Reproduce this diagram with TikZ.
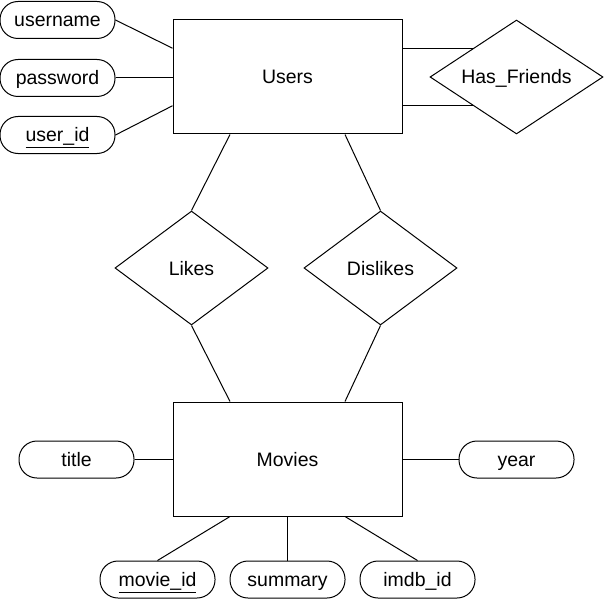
\documentclass[tikz,border=0pt]{standalone}
\usepackage{fontspec}
\setmainfont{Liberation Sans}
\usetikzlibrary{shapes.geometric,calc}

\begin{document}
\begin{tikzpicture}[x=0.75pt,y=-0.75pt,line width=0.75pt,
   font=\fontsize{14.6pt}{17pt}\selectfont,
   every node/.style={text height=10.5pt,text depth=0pt},
   entity/.style={draw,rectangle,inner sep=0pt,minimum width=171.75pt,minimum height=85.5pt},
   attr/.style={draw,rectangle,rounded corners=13.5pt,inner sep=0pt,minimum width=86.25pt,
      minimum height=27.75pt},
   rel/.style={draw,diamond,inner sep=0pt,minimum height=85.5pt}]
   \useasboundingbox (0,0) rectangle (604,613);
   % entities
   \node[entity] (users)  at (287.5,77)  {Users};
   \node[entity] (movies) at (287.5,459) {Movies};
   % relations
   \node[rel,aspect=1.5,minimum width=129.75pt] (friends) at (516.5,77) {Has\_Friends};
   \node[rel,aspect=1.34,minimum width=114.75pt] (likes) at (191.5,268) {Likes};
   \node[rel,aspect=1.34,minimum width=114.75pt] (dislikes) at (380.5,268) {Dislikes};
   % attributes of users
   \node[attr] (username) at (57.5,20)  {username};
   \node[attr] (password) at (57.5,78)  {password};
   \node[attr] (user_id)  at (57.5,135) {\underline{user\_id}};
   % attributes of movies
   \node[attr] (title)    at (76.5,459.5)  {title};
   \node[attr] (year)     at (516.5,459.5) {year};
   \node[attr] (movie_id) at (157.5,579.5) {\underline{movie\_id}};
   \node[attr] (summary)  at (287.5,579.5) {summary};
   \node[attr] (imdb_id)  at (417.5,579.5) {imdb\_id};
   % anchor points on the boxes
   \coordinate (u_lt) at ($(users.north west)!0.25!(users.south west)$);
   \coordinate (u_lb) at ($(users.north west)!0.75!(users.south west)$);
   \coordinate (u_rt) at ($(users.north east)!0.25!(users.south east)$);
   \coordinate (u_rb) at ($(users.north east)!0.75!(users.south east)$);
   \coordinate (u_bl) at ($(users.south west)!0.25!(users.south east)$);
   \coordinate (u_br) at ($(users.south west)!0.75!(users.south east)$);
   \coordinate (m_tl) at ($(movies.north west)!0.25!(movies.north east)$);
   \coordinate (m_tr) at ($(movies.north west)!0.75!(movies.north east)$);
   \coordinate (m_bl) at ($(movies.south west)!0.25!(movies.south east)$);
   \coordinate (m_br) at ($(movies.south west)!0.75!(movies.south east)$);
   % connectors
   \draw (username.east) -- (u_lt);
   \draw (password.east) -- (password.east -| users.west);
   \draw (user_id.east) -- (u_lb);
   \draw (u_rt) -- (friends.north west);
   \draw (u_rb) -- (friends.south west);
   \draw (u_bl) -- (likes.north);
   \draw (u_br) -- (dislikes.north);
   \draw (likes.south) -- (m_tl);
   \draw (dislikes.south) -- (m_tr);
   \draw (title.east) -- (title.east -| movies.west);
   \draw (year.west) -- (year.west -| movies.east);
   \draw (m_bl) -- (movie_id.north);
   \draw (movies.south) -- (summary.north);
   \draw (m_br) -- (imdb_id.north);
\end{tikzpicture}
\end{document}
